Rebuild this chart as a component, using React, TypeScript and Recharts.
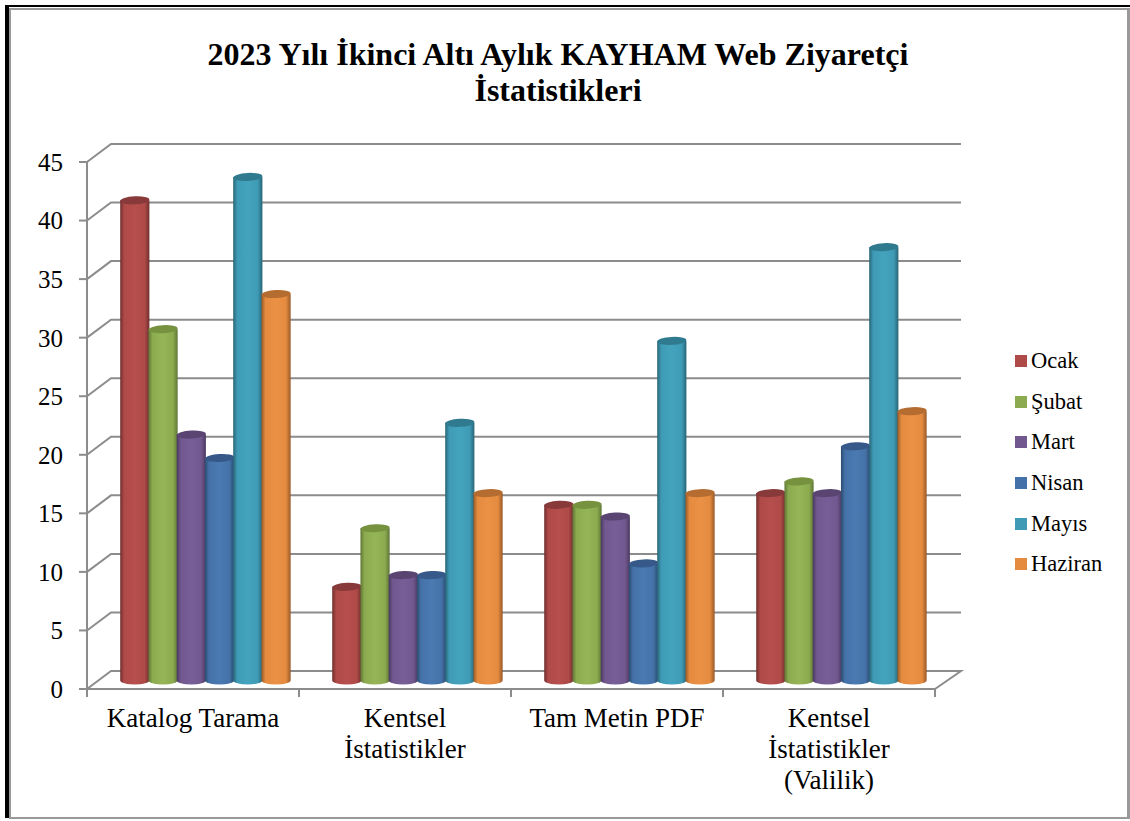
import React from "react";
import { BarChart, Bar, XAxis, YAxis, CartesianGrid, Legend } from "recharts";

const categories = ["Katalog Tarama", "Kentsel\nİstatistikler", "Tam Metin PDF", "Kentsel\nİstatistikler\n(Valilik)"];
const ocak = [41, 8, 15, 16];
const subat = [30, 13, 15, 17];
const mart = [21, 9, 14, 16];
const nisan = [19, 9, 10, 20];
const mayis = [43, 22, 29, 37];
const haziran = [33, 16, 16, 23];
const yTicks = [0, 5, 10, 15, 20, 25, 30, 35, 40, 45];
const titleLines = ["2023 Yılı İkinci Altı Aylık KAYHAM Web Ziyaretçi", "İstatistikleri"];

const seriesDefs = [
  { key: "Ocak", values: ocak, color: "#AE4A48", light: "#B64F4D", dark: "#702F2E", top: "#88393A" },
  { key: "Şubat", values: subat, color: "#8CAB50", light: "#95B557", dark: "#5F7636", top: "#76923F" },
  { key: "Mart", values: mart, color: "#71588F", light: "#785E97", dark: "#4A395F", top: "#5A4572" },
  { key: "Nisan", values: nisan, color: "#4472A8", light: "#4A7AB2", dark: "#2C4B70", top: "#36598A" },
  { key: "Mayıs", values: mayis, color: "#3F9BB5", light: "#43A3BD", dark: "#286577", top: "#2F7A8F" },
  { key: "Haziran", values: haziran, color: "#E58B3F", light: "#EA9145", dark: "#975A28", top: "#B56C30" },
];

const data = categories.map((name, i) => {
  const row: Record<string, string | number> = { name };
  seriesDefs.forEach((s) => { row[s.key] = s.values[i]; });
  return row;
});

const FONT = "'Liberation Serif', 'Times New Roman', serif";
const GRID = "#8C8C8C";
const DX = 24;
const DY = -18;
const BAR_DX = 12;
const BAR_DY = -8.5;
const RY = 4;

function gridLine(p: any) {
  const { x1, x2, y1, index } = p;
  const isFloor = Math.abs(y1 - 689) < 1;
  const d = isFloor
    ? `M${x1},${y1} L${x1 + DX},${y1 + DY} L${x2 + DX + 2},${y1 + DY} L${x2},${y1}`
    : `M${x1},${y1} L${x1 + DX},${y1 + DY} L${x2 + DX + 2},${y1 + DY}`;
  return <path key={`g${index}-${y1}`} d={d} fill="none" stroke={GRID} strokeWidth={2} />;
}

function XTick(p: any) {
  const { x, y, payload, width, visibleTicksCount, index } = p;
  const band = width / visibleTicksCount;
  const lines = String(payload.value).split("\n");
  return (
    <g>
      <line x1={x - band / 2} x2={x - band / 2} y1={y} y2={y + 8} stroke={GRID} strokeWidth={2} />
      {index === visibleTicksCount - 1 && (
        <line x1={x + band / 2} x2={x + band / 2} y1={y} y2={y + 8} stroke={GRID} strokeWidth={2} />
      )}
      <text x={x} y={y + 38} textAnchor="middle" fontFamily={FONT} fontSize={27} fill="#000">
        {lines.map((l, i) => (
          <tspan key={i} x={x} y={y + 38 + i * 31}>{l}</tspan>
        ))}
      </text>
    </g>
  );
}

function cylinder(color: (typeof seriesDefs)[number]) {
  return (p: any) => {
    const { x, y, width, height } = p;
    const w = width + 1.2;
    const left = x + BAR_DX + seriesDefs.indexOf(color) * 0.25;
    const right = left + w;
    const cx = left + w / 2;
    const rx = w / 2;
    const top = y + BAR_DY;
    const bottom = top + height;
    const d = `M${left},${top} L${left},${bottom} A${rx},${RY} 0 0 0 ${right},${bottom} L${right},${top} Z`;
    return (
      <g>
        <path d={d} fill={`url(#grad${seriesDefs.indexOf(color)})`} />
        <ellipse cx={cx} cy={top} rx={rx} ry={RY} fill={color.top} transform={`rotate(-3 ${cx} ${top})`} />
      </g>
    );
  };
}

function LegendBox({ payload }: any) {
  return (
    <div style={{ fontFamily: FONT, fontSize: 22.5, color: "#000" }}>
      {(payload || []).map((e: any) => (
        <div key={e.value} style={{ height: 40.6, display: "flex", alignItems: "center" }}>
          <span style={{ width: 12, height: 12, background: e.color, marginRight: 4, display: "inline-block" }} />
          <span>{e.value}</span>
        </div>
      ))}
    </div>
  );
}

export default function App() {
  return (
    <div style={{ position: "absolute", left: 0, top: 0, width: 1130, height: 821, background: "#fff", overflow: "hidden" }}>
      <div style={{ position: "absolute", left: 8, top: 8, width: 1120, height: 2, background: "#999" }} />
      <div style={{ position: "absolute", left: 9, top: 817, width: 1121, height: 2, background: "#999" }} />
      <div style={{ position: "absolute", left: 1127, top: 8, width: 3, height: 811, background: "#999" }} />
      <div style={{ position: "absolute", left: 9, top: 8, width: 2, height: 810, background: "#999" }} />
      <div style={{ position: "absolute", left: 5, top: 5, width: 4, height: 813, background: "#000" }} />
      <div style={{ position: "absolute", left: 5, top: 5, width: 1125, height: 2, background: "#000" }} />
      <div style={{ position: "absolute", left: 0, width: 1116, top: 36, textAlign: "center", fontFamily: FONT, fontWeight: 700, fontSize: 32, lineHeight: "36px", color: "#000" }}>
        {titleLines.map((t) => <div key={t}>{t}</div>)}
      </div>
      <div style={{ position: "absolute", left: 0, top: 0 }}>
        <BarChart width={1130} height={821} data={data} margin={{ top: 162, right: 195, bottom: 0, left: 0 }} barCategoryGap="10%" barGap={0}>
          <defs>
            {seriesDefs.map((s, i) => (
              <linearGradient key={s.key} id={`grad${i}`} x1="0" x2="1" y1="0" y2="0">
                <stop offset="0%" stopColor={s.dark} />
                <stop offset="14%" stopColor={s.color} />
                <stop offset="50%" stopColor={s.light} />
                <stop offset="84%" stopColor={s.color} />
                <stop offset="100%" stopColor={s.dark} />
              </linearGradient>
            ))}
          </defs>
          <CartesianGrid vertical={false} horizontal={gridLine} />
          <XAxis dataKey="name" height={132} interval={0} tick={XTick} tickLine={false} tickSize={0} tickMargin={0} axisLine={{ stroke: GRID, strokeWidth: 2 }} />
          <YAxis
            width={87}
            domain={[0, 45]}
            ticks={yTicks}
            interval={0}
            tickSize={8}
            tickMargin={16}
            tickLine={{ stroke: GRID, strokeWidth: 2 }}
            axisLine={{ stroke: GRID, strokeWidth: 2 }}
            tick={{ fontFamily: FONT, fontSize: 25, fill: "#000" }}
          />
          <Legend
            layout="vertical"
            align="center"
            verticalAlign="middle"
            itemSorter={null}
            content={<LegendBox />}
            wrapperStyle={{ left: 1015, top: 341, width: 112, height: 244 }}
          />
          {seriesDefs.map((s) => (
            <Bar key={s.key} dataKey={s.key} fill={s.color} isAnimationActive={false} shape={cylinder(s)} />
          ))}
        </BarChart>
      </div>
    </div>
  );
}
